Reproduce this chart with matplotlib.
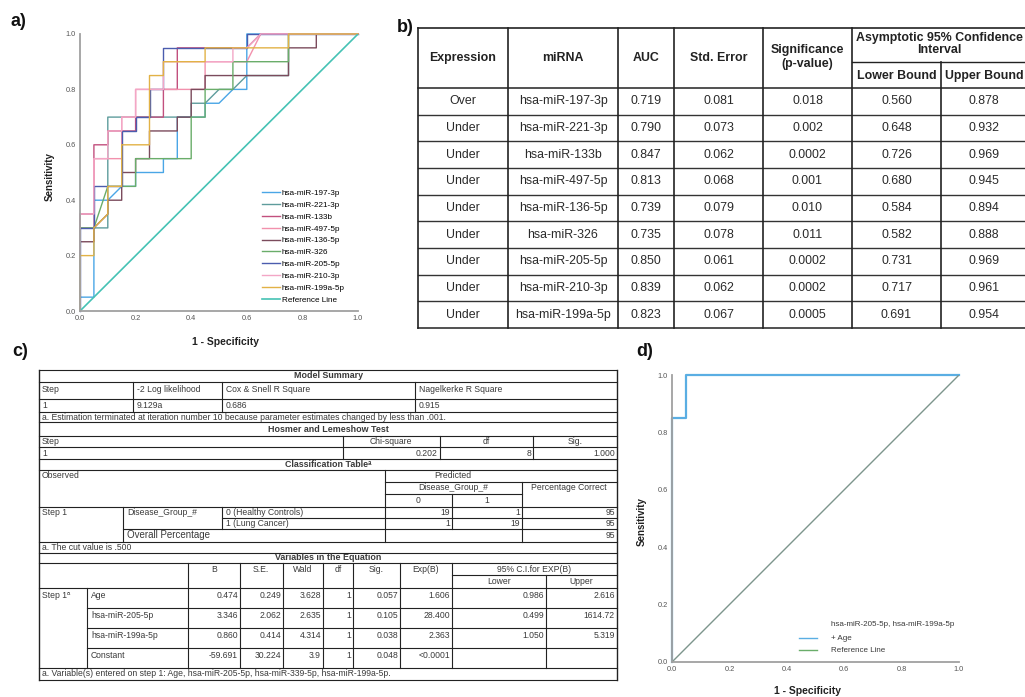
import matplotlib
matplotlib.use('Agg')
import matplotlib.pyplot as plt
import numpy as np

plt.rcParams['font.family'] = ['Liberation Sans', 'DejaVu Sans']

# ---------------- panel a: ROC curves of single miRNAs ----------------
roc_labels = ['hsa-miR-197-3p', 'hsa-miR-221-3p', 'hsa-miR-133b', 'hsa-miR-497-5p',
              'hsa-miR-136-5p', 'hsa-miR-326', 'hsa-miR-205-5p', 'hsa-miR-210-3p',
              'hsa-miR-199a-5p']
roc_colors = ['#4aa6e6', '#5e9c9c', '#c2507e', '#f291ad', '#7b4b5c',
              '#6aad6a', '#4b5cae', '#f3a6c6', '#e2b246']

fpr_197 = [0, 0, 0.05, 0.05, 0.1, 0.15, 0.2, 0.2, 0.3, 0.3, 0.35, 0.35, 0.45, 0.45, 0.5, 0.55, 0.6, 0.6, 1]
tpr_197 = [0, 0.05, 0.05, 0.4, 0.4, 0.45, 0.45, 0.5, 0.5, 0.55, 0.55, 0.7, 0.7, 0.75, 0.75, 0.8, 0.8, 1.0, 1]
fpr_221 = [0, 0, 0.1, 0.1, 0.4, 0.4, 0.45, 0.5, 0.55, 0.6, 0.75, 0.75, 1]
tpr_221 = [0, 0.3, 0.3, 0.7, 0.7, 0.75, 0.75, 0.8, 0.8, 0.85, 0.85, 1.0, 1]
fpr_133 = [0, 0, 0.05, 0.05, 0.1, 0.1, 0.2, 0.2, 0.3, 0.3, 0.35, 0.35, 0.6, 0.65, 1]
tpr_133 = [0, 0.35, 0.35, 0.6, 0.6, 0.65, 0.65, 0.7, 0.7, 0.8, 0.8, 0.95, 0.95, 1.0, 1]
fpr_497 = [0, 0, 0.05, 0.05, 0.15, 0.15, 0.2, 0.2, 0.45, 0.45, 0.6, 0.65, 1]
tpr_497 = [0, 0.3, 0.3, 0.55, 0.55, 0.7, 0.7, 0.8, 0.8, 0.9, 0.9, 1.0, 1]
fpr_136 = [0, 0, 0.05, 0.05, 0.1, 0.1, 0.15, 0.15, 0.2, 0.2, 0.25, 0.25, 0.35, 0.35, 0.4, 0.4,
           0.45, 0.45, 0.75, 0.75, 0.85, 0.85, 1]
tpr_136 = [0, 0.25, 0.25, 0.3, 0.35, 0.4, 0.4, 0.5, 0.5, 0.55, 0.55, 0.65, 0.65, 0.7, 0.7, 0.8,
           0.8, 0.85, 0.85, 0.95, 0.95, 1.0, 1]
fpr_326 = [0, 0, 0.05, 0.1, 0.2, 0.2, 0.4, 0.4, 0.45, 0.45, 0.55, 0.55, 0.75, 0.75, 1]
tpr_326 = [0, 0.3, 0.3, 0.45, 0.45, 0.55, 0.55, 0.7, 0.7, 0.8, 0.8, 0.9, 0.9, 1.0, 1]
fpr_205 = [0, 0, 0.05, 0.05, 0.15, 0.15, 0.2, 0.2, 0.25, 0.25, 0.3, 0.3, 0.6, 0.6, 1]
tpr_205 = [0, 0.3, 0.3, 0.45, 0.45, 0.65, 0.65, 0.7, 0.7, 0.8, 0.8, 0.95, 0.95, 1.0, 1]
fpr_210 = [0, 0, 0.05, 0.05, 0.1, 0.1, 0.15, 0.15, 0.2, 0.2, 0.3, 0.3, 0.55, 0.55, 0.6, 0.65, 1]
tpr_210 = [0, 0.35, 0.35, 0.55, 0.55, 0.65, 0.65, 0.7, 0.7, 0.8, 0.8, 0.9, 0.9, 0.95, 0.95, 1.0, 1]
fpr_199 = [0, 0, 0.05, 0.05, 0.1, 0.1, 0.15, 0.15, 0.25, 0.25, 0.3, 0.3, 0.45, 0.45, 0.75, 0.75, 1]
tpr_199 = [0, 0.2, 0.2, 0.3, 0.35, 0.45, 0.45, 0.6, 0.6, 0.85, 0.85, 0.9, 0.9, 0.95, 0.95, 1.0, 1]

roc_fpr = [fpr_197, fpr_221, fpr_133, fpr_497, fpr_136, fpr_326, fpr_205, fpr_210, fpr_199]
roc_tpr = [tpr_197, tpr_221, tpr_133, tpr_497, tpr_136, tpr_326, tpr_205, tpr_210, tpr_199]

# ---------------- panel b: AUC table ----------------
expression = ['Over', 'Under', 'Under', 'Under', 'Under', 'Under', 'Under', 'Under', 'Under']
mirna = roc_labels
auc = ['0.719', '0.790', '0.847', '0.813', '0.739', '0.735', '0.850', '0.839', '0.823']
std_err = ['0.081', '0.073', '0.062', '0.068', '0.079', '0.078', '0.061', '0.062', '0.067']
p_value = ['0.018', '0.002', '0.0002', '0.001', '0.010', '0.011', '0.0002', '0.0002', '0.0005']
ci_lower = ['0.560', '0.648', '0.726', '0.680', '0.584', '0.582', '0.731', '0.717', '0.691']
ci_upper = ['0.878', '0.932', '0.969', '0.945', '0.894', '0.888', '0.969', '0.961', '0.954']

# ---------------- panel c: logistic regression output ----------------
ms_header = ['Step', '-2 Log likelihood', 'Cox & Snell R Square', 'Nagelkerke R Square']
ms_values = ['1', '9.129a', '0.686', '0.915']
hl_values = ['1', '0.202', '8', '1.000']
cls_healthy = ['19', '1', '95']
cls_cancer = ['1', '19', '95']
cls_overall = '95'
var_names = ['Age', 'hsa-miR-205-5p', 'hsa-miR-199a-5p', 'Constant']
var_b = ['0.474', '3.346', '0.860', '-59.691']
var_se = ['0.249', '2.062', '0.414', '30.224']
var_wald = ['3.628', '2.635', '4.314', '3.9']
var_df = ['1', '1', '1', '1']
var_sig = ['0.057', '0.105', '0.038', '0.048']
var_expb = ['1.606', '28.400', '2.363', '<0.0001']
var_lower = ['0.986', '0.499', '1.050', '']
var_upper = ['2.616', '1614.72', '5.319', '']

# ---------------- panel d: combined model ROC ----------------
comb_fpr = [0, 0, 0.05, 0.05, 1]
comb_tpr = [0, 0.85, 0.85, 1.0, 1]

W, H = 1025, 697
fig = plt.figure(figsize=(W / 100, H / 100), dpi=100)
bg = fig.add_axes([0, 0, 1, 1])
bg.set_xlim(0, W)
bg.set_ylim(H, 0)
bg.axis('off')

CFS = 6.2  # font size of the SPSS tables


def px_axes(l, t, r, b):
    return fig.add_axes([l / W, (H - b) / H, (r - l) / W, (b - t) / H])


def hl(x0, x1, y, lw=0.8, c='#222222'):
    bg.plot([x0, x1], [y, y], color=c, lw=lw, solid_capstyle='projecting')


def vl(x, y0, y1, lw=0.8, c='#222222'):
    bg.plot([x, x], [y0, y1], color=c, lw=lw, solid_capstyle='projecting')


def tx(x, y, s, size=CFS, ha='left', weight='normal', color='#3a3a3a'):
    bg.text(x, y, s, fontsize=size, ha=ha, va='center', fontweight=weight, color=color)


def roc_style(ax):
    for s in ['top', 'right']:
        ax.spines[s].set_visible(False)
    for s in ['left', 'bottom']:
        ax.spines[s].set_color('#a0a0a0')
        ax.spines[s].set_linewidth(1.3)
    ticks = [0, 0.2, 0.4, 0.6, 0.8, 1.0]
    ax.set_xticks(ticks)
    ax.set_yticks(ticks)
    ax.set_xticklabels(['%.1f' % t for t in ticks])
    ax.set_yticklabels(['%.1f' % t for t in ticks])
    ax.tick_params(length=0, labelsize=5.3, colors='#555555', pad=3)
    ax.set_xlim(0, 1)
    ax.set_ylim(0, 1)
    ax.patch.set_visible(False)


# panel a
axa = px_axes(80, 34, 358, 311)
for x, y, lab, col in zip(roc_fpr, roc_tpr, roc_labels, roc_colors):
    axa.plot(x, y, color=col, lw=1.0, label=lab, clip_on=False)
axa.plot([0, 1], [0, 1], color='#45c2b4', lw=1.2, label='Reference Line')
roc_style(axa)
axa.legend(loc='lower right', bbox_to_anchor=(0.965, 0.015), frameon=False, fontsize=5.9,
           handlelength=2.2, labelspacing=0.5, handletextpad=0.3, borderaxespad=0)
tx(18, 22, 'a)', size=13, weight='bold', color='#111111', ha='center')
bg.text(50, 177, 'Sensitivity', rotation=90, fontsize=7, fontweight='bold', ha='center',
        va='center', color='#222222')
tx(226, 342, '1 - Specificity', size=7.5, weight='bold', ha='center', color='#222222')

# panel b table
tx(405, 27, 'b)', size=13, weight='bold', color='#111111', ha='center')
cols_b = [418, 508, 618, 674, 763, 852, 941, 1027]
rows_b = np.linspace(88, 328, 10)
hl(cols_b[0], cols_b[-1], 28, lw=1.2)
hl(cols_b[5], cols_b[-1], 62, lw=1.0)
for y in rows_b:
    hl(cols_b[0], cols_b[-1], y, lw=1.2 if y in (88, 328) else 1.0, c='#333333')
for i, x in enumerate(cols_b):
    top = 62 if i == 6 else 28
    vl(x, top, 328, lw=1.2)
centers_b = [(cols_b[i] + cols_b[i + 1]) / 2 for i in range(len(cols_b) - 1)]
BFS = 8.9
hdr_kw = dict(size=BFS, weight='bold', ha='center', color='#222222')
tx(centers_b[0], 58, 'Expression', **hdr_kw)
tx(centers_b[1], 58, 'miRNA', **hdr_kw)
tx(centers_b[2], 58, 'AUC', **hdr_kw)
tx(centers_b[3], 58, 'Std. Error', **hdr_kw)
bg.text(centers_b[4], 57, 'Significance\n(p-value)', fontsize=BFS, fontweight='bold',
        ha='center', va='center', color='#222222', linespacing=1.15)
bg.text((cols_b[5] + cols_b[7]) / 2, 44, 'Asymptotic 95% Confidence\nInterval', fontsize=BFS,
        fontweight='bold', ha='center', va='center', color='#222222', linespacing=1.0)
tx(centers_b[5], 76, 'Lower Bound', **hdr_kw)
tx(centers_b[6], 76, 'Upper Bound', **hdr_kw)
table_b_cols = [expression, mirna, auc, std_err, p_value, ci_lower, ci_upper]
for r in range(len(expression)):
    yc = (rows_b[r] + rows_b[r + 1]) / 2
    for c, col in enumerate(table_b_cols):
        tx(centers_b[c], yc, col[r], size=BFS, ha='center', color='#2a2a2a')

# panel c SPSS tables
tx(20, 352, 'c)', size=13, weight='bold', color='#111111', ha='center')
L, R = 39, 617
for y in [370, 382, 399, 412, 422, 436, 447, 459, 470, 507, 542, 553, 563, 588, 668, 680]:
    hl(L, R, y)
hl(385, R, 482)
hl(385, 522, 494)
hl(222, R, 518)
hl(123, R, 529)
hl(452, R, 575)
for y in [608, 628, 648]:
    hl(87, R, y)
vl(L, 370, 680, lw=1.0)
vl(R, 370, 680, lw=1.0)
for x in [133, 222, 415]:
    vl(x, 382, 412)
for x in [343, 440, 533]:
    vl(x, 436, 459)
vl(385, 470, 542)
vl(522, 482, 542)
vl(452, 494, 529)
vl(123, 507, 542)
vl(222, 507, 529)
for x in [188, 240, 283, 323, 353, 400, 452]:
    vl(x, 563, 668)
vl(546, 575, 668)
vl(87, 588, 668)

TFS = 6.4
tx(328, 376, 'Model Summary', size=TFS, weight='bold', ha='center')
for x, s in zip([42, 137, 226, 419], ms_header):
    tx(x, 389, s)
for x, s in zip([42, 137, 226, 419], ms_values):
    tx(x, 405.5, s)
tx(42, 417, 'a. Estimation terminated at iteration number 10 because parameter estimates '
   'changed by less than .001.')

tx(328, 429, 'Hosmer and Lemeshow Test', size=TFS, weight='bold', ha='center')
tx(42, 441.5, 'Step')
tx(391, 441.5, 'Chi-square', ha='center')
tx(486, 441.5, 'df', ha='center')
tx(575, 441.5, 'Sig.', ha='center')
tx(42, 453, hl_values[0])
for x, s in zip([438, 531, 615], hl_values[1:]):
    tx(x, 453, s, ha='right')

tx(328, 464.5, 'Classification Table\u1d43', size=TFS, weight='bold', ha='center')
tx(42, 476, 'Observed')
tx(453, 476, 'Predicted', ha='center')
tx(453, 488, 'Disease_Group_#', ha='center')
tx(569, 488, 'Percentage Correct', ha='center')
tx(418, 500.5, '0', ha='center')
tx(487, 500.5, '1', ha='center')
tx(42, 512.5, 'Step 1')
tx(127, 512.5, 'Disease_Group_#')
tx(226, 512.5, '0 (Healthy Controls)')
tx(226, 523.5, '1 (Lung Cancer)')
for x, a, b in zip([450, 520, 615], cls_healthy, cls_cancer):
    tx(x, 512.5, a, ha='right')
    tx(x, 523.5, b, ha='right')
tx(127, 535.5, 'Overall Percentage', size=7)
tx(615, 535.5, cls_overall, ha='right')
tx(42, 547.5, 'a. The cut value is .500')

tx(328, 558, 'Variables in the Equation', size=TFS, weight='bold', ha='center')
for x, s in zip([214, 261, 303, 338, 376, 426], ['B', 'S.E.', 'Wald', 'df', 'Sig.', 'Exp(B)']):
    tx(x, 569, s, ha='center')
tx(534, 569, '95% C.I.for EXP(B)', ha='center')
tx(499, 581, 'Lower', ha='center')
tx(581, 581, 'Upper', ha='center')
tx(42, 595, 'Step 1\u1d43')
right_edges = [238, 281, 321, 351, 398, 450, 544, 615]
var_cols = [var_b, var_se, var_wald, var_df, var_sig, var_expb, var_lower, var_upper]
for r, name in enumerate(var_names):
    yt = 588 + 20 * r + 7
    tx(91, yt, name)
    for x, col in zip(right_edges, var_cols):
        tx(x, yt, col[r], ha='right')
tx(42, 674, 'a. Variable(s) entered on step 1: Age, hsa-miR-205-5p, hsa-miR-339-5p, hsa-miR-199a-5p.')

# panel d
tx(645, 352, 'd)', size=13, weight='bold', color='#111111', ha='center')
axd = px_axes(672, 375, 959, 662)
comb_line, = axd.plot(comb_fpr, comb_tpr, color='#5aaee3', lw=1.6, clip_on=False)
axd.plot([0, 1], [0, 1], color='#7d958c', lw=1.0)
roc_style(axd)
bg.text(642, 522, 'Sensitivity', rotation=90, fontsize=7, fontweight='bold', ha='center',
        va='center', color='#222222')
tx(808, 691, '1 - Specificity', size=7.5, weight='bold', ha='center', color='#222222')
tx(831, 625, 'hsa-miR-205-5p, hsa-miR-199a-5p', size=5.8)
hl(799, 817, 638, lw=1.0, c=comb_line.get_color())
tx(831, 638, '+ Age', size=5.8)
hl(799, 817, 650, lw=1.0, c='#6aad6a')
tx(831, 650, 'Reference Line', size=5.8)

fig.savefig('out.png', dpi=100)
